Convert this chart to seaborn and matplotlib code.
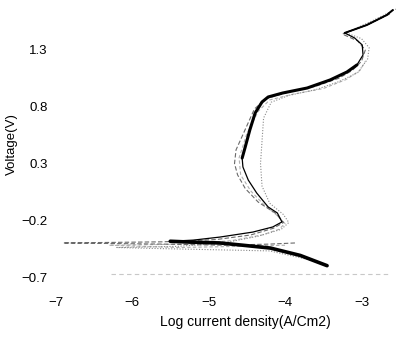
import matplotlib
matplotlib.use("Agg")
import matplotlib.pyplot as plt
import seaborn as sns
import pandas as pd

# ---- data ----
main_logi = [-3.45, -3.54, -3.80, -4.19, -4.55, -4.85, -5.25, -5.50, -5.20, -4.85,
             -4.42, -4.16, -4.04, -4.10, -4.22, -4.37, -4.48, -4.55, -4.56, -4.52,
             -4.46, -4.39, -4.30, -4.22, -4.03, -3.71, -3.41, -3.19, -3.06, -2.98,
             -2.99, -3.09, -3.22, -2.93, -2.67, -2.59]
main_v = [-0.600, -0.577, -0.510, -0.445, -0.420, -0.400, -0.392, -0.385, -0.375, -0.348,
          -0.304, -0.259, -0.215, -0.136, -0.083, 0.040, 0.154, 0.269, 0.348, 0.445,
          0.595, 0.745, 0.842, 0.886, 0.921, 0.965, 1.036, 1.106, 1.168, 1.256,
          1.344, 1.406, 1.450, 1.520, 1.608, 1.652]

run2_logi = [-3.87, -4.20, -4.80, -5.60, -6.90, -5.60, -4.90, -4.45, -4.15, -4.02,
             -4.12, -4.35, -4.52, -4.62, -4.66, -4.64, -4.52, -4.40, -4.25, -3.95,
             -3.60, -3.30, -3.12, -3.00, -2.95, -3.05, -3.25, -2.90, -2.62]
run2_v = [-0.400, -0.410, -0.420, -0.410, -0.400, -0.390, -0.370, -0.330, -0.270, -0.220,
          -0.140, -0.040, 0.080, 0.200, 0.300, 0.420, 0.600, 0.780, 0.870, 0.930,
          0.980, 1.050, 1.120, 1.200, 1.300, 1.380, 1.440, 1.530, 1.620]

run3_logi = [-3.60, -4.20, -4.90, -5.60, -6.20, -5.40, -4.80, -4.35, -4.05, -3.95,
             -4.02, -4.20, -4.30, -4.32, -4.30, -4.28, -4.18, -3.95, -3.60, -3.30,
             -3.05, -2.92, -2.90, -3.00, -3.20, -2.85, -2.55]
run3_v = [-0.560, -0.470, -0.460, -0.450, -0.440, -0.430, -0.400, -0.340, -0.280, -0.220,
          -0.150, -0.050, 0.100, 0.300, 0.500, 0.700, 0.840, 0.900, 0.950, 1.020,
          1.100, 1.220, 1.320, 1.400, 1.450, 1.560, 1.660]

run4_logi = [-4.00, -4.60, -5.40, -6.30, -5.30, -4.70, -4.30, -4.08, -4.00, -4.08,
             -4.28, -4.45, -4.58, -4.60, -4.50, -4.35, -4.20, -3.90, -3.50, -3.20,
             -3.02, -2.95]
run4_v = [-0.420, -0.430, -0.440, -0.420, -0.410, -0.380, -0.330, -0.280, -0.230, -0.170,
          -0.060, 0.060, 0.200, 0.350, 0.560, 0.760, 0.860, 0.910, 0.960, 1.040,
          1.120, 1.200]

baseline_v = -0.675

x_ticks = [-7, -6, -5, -4, -3]
x_ticklabels = ["\u22127", "\u22126", "\u22125", "\u22124", "\u22123"]
y_ticks = [-0.7, -0.2, 0.3, 0.8, 1.3]
y_ticklabels = ["\u22120.7", "\u22120.2", "0.3", "0.8", "1.3"]

sns.set_style("white")
plt.rcParams["font.family"] = ["Liberation Sans", "DejaVu Sans"]
plt.rcParams["text.color"] = "black"
plt.rcParams["axes.labelcolor"] = "black"
plt.rcParams["xtick.color"] = "black"
plt.rcParams["ytick.color"] = "black"

fig = plt.figure(figsize=(3.98, 3.38), dpi=100)
ax = fig.add_axes([0.1299, 0.1737, 0.8706, 0.8195])

series = [
    (run4_logi, run4_v, "#b0b0b0", 0.8, (0, (3, 2))),
    (run3_logi, run3_v, "#8a8a8a", 0.8, (0, (1, 1.5))),
    (run2_logi, run2_v, "#6a6a6a", 0.8, (0, (4, 2))),
    (main_logi, main_v, "#000000", 0.9, "-"),
]
for lx, lv, col, lw, ls in series:
    df = pd.DataFrame({"logI": lx, "V": lv})
    sns.lineplot(data=df, x="logI", y="V", sort=False, estimator=None,
                 color=col, lw=lw, linestyle=ls, ax=ax)

# heavier overlap bands of the main run (same data, selected ranges)
main_df = pd.DataFrame({"logI": main_logi, "V": main_v})
for lo, hi, lw in [(0, 8, 2.6), (18, 29, 2.2), (32, 36, 1.4)]:
    sns.lineplot(data=main_df.iloc[lo:hi], x="logI", y="V", sort=False,
                 estimator=None, color="black", lw=lw, ax=ax)

ax.axhline(baseline_v, xmin=0.17, xmax=0.98, color="#c8c8c8", lw=0.8,
           linestyle=(0, (4, 3)))

ax.set_xlim(-7.05, -2.52)
ax.set_ylim(-0.72, 1.72)
ax.set_xticks(x_ticks)
ax.set_xticklabels(x_ticklabels)
ax.set_yticks(y_ticks)
ax.set_yticklabels(y_ticklabels)
ax.tick_params(axis="both", length=0, labelsize=9.5)
ax.tick_params(axis="x", pad=13)
ax.tick_params(axis="y", pad=3)
for s in ax.spines.values():
    s.set_visible(False)

ax.set_xlabel("Log current density(A/Cm2)", fontsize=10)
ax.set_ylabel("Voltage(V)", fontsize=9.5)
ax.xaxis.set_label_coords(0.558, -0.128)
ax.yaxis.set_label_coords(-0.096, 0.49)

fig.savefig("out.png", dpi=100)
